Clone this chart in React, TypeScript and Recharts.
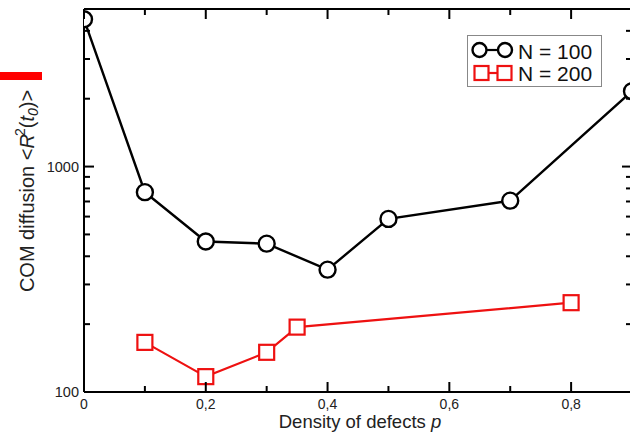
import React from "react";
import { LineChart, Line, XAxis, YAxis, Legend, Label } from "recharts";

// ---- data ----
const pN100: number[] = [0, 0.1, 0.2, 0.3, 0.4, 0.5, 0.7, 0.9];
const rN100: number[] = [4500, 770, 465, 455, 349, 586, 706, 2160];
const pN200: number[] = [0.1, 0.2, 0.3, 0.35, 0.8];
const rN200: number[] = [166, 117, 150, 194, 249];

const xTicks: number[] = [0, 0.1, 0.2, 0.3, 0.4, 0.5, 0.6, 0.7, 0.8];
const xMajor: number[] = [0, 0.2, 0.4, 0.6, 0.8];
const yTicks: number[] = [100, 200, 300, 400, 500, 600, 700, 800, 900, 1000, 2000, 3000, 4000, 5000];
const yMajor: number[] = [100, 1000];

const seriesNames = ["N = 100", "N = 200"];

const data100 = pN100.map((p, i) => ({ p, r: rN100[i] }));
const data200 = pN200.map((p, i) => ({ p, r: rN200[i] }));

const FONT = "'Liberation Sans', Arial, Helvetica, sans-serif";
const RED = "#ee1111";

const isMajorX = (v: number) => xMajor.some((m) => Math.abs(m - v) < 1e-9);
const isMajorY = (v: number) => yMajor.some((m) => Math.abs(m - v) < 1e-6);
const fmtX = (v: number) => (v === 0 ? "0" : String(v).replace(".", ","));

const XTickBottom = (props: any) => {
  const { x, y, payload } = props;
  const v = payload.value;
  const major = isMajorX(v);
  return (
    <g>
      <line x1={x} x2={x} y1={y} y2={y - (major ? 10 : 6)} stroke="#000" strokeWidth={2} />
      {major && (
        <text x={x} y={y + 16.5} textAnchor="middle" fontSize={14} fontFamily={FONT} fill="#222">
          {fmtX(v)}
        </text>
      )}
    </g>
  );
};

const XTickTop = (props: any) => {
  const { x, y, payload } = props;
  const major = isMajorX(payload.value);
  return <line x1={x} x2={x} y1={y} y2={y + (major ? 10 : 6)} stroke="#000" strokeWidth={2} />;
};

const YTickLeft = (props: any) => {
  const { x, y, payload } = props;
  const v = payload.value;
  const major = isMajorY(v);
  return (
    <g>
      <line x1={x} x2={x + (major ? 10 : 6)} y1={y} y2={y} stroke="#000" strokeWidth={2} />
      {major && (
        <text x={x - 5} y={y + 5} textAnchor="end" fontSize={14.5} fontFamily={FONT} fill="#222">
          {String(v)}
        </text>
      )}
    </g>
  );
};

const YTickRight = (props: any) => {
  const { x, y, payload } = props;
  const major = isMajorY(payload.value);
  return <line x1={x} x2={x - (major ? 10 : 6)} y1={y} y2={y} stroke="#000" strokeWidth={2} />;
};

const CircleDot = (props: any) => {
  const { cx, cy, index } = props;
  if (cx == null || cy == null) return <g key={`c${index}`} />;
  return <circle key={`c${index}`} cx={cx} cy={cy} r={8} fill="#fff" stroke="#000" strokeWidth={2.4} />;
};

const SquareDot = (props: any) => {
  const { cx, cy, index } = props;
  if (cx == null || cy == null) return <g key={`s${index}`} />;
  return (
    <rect key={`s${index}`} x={cx - 7.5} y={cy - 7.5} width={15} height={15} fill="#fff" stroke={RED} strokeWidth={2.2} />
  );
};

const YLabel = () => {
  const cx = 34;
  const cy = 191;
  return (
    <text
      x={cx}
      y={cy}
      transform={`rotate(-90, ${cx}, ${cy})`}
      textAnchor="middle"
      fontSize={20}
      fontFamily={FONT}
      fill="#222"
    >
      <tspan>COM diffusion &lt;</tspan>
      <tspan fontStyle="italic">R</tspan>
      <tspan fontSize={14} dy={-9} dx={-2}>2</tspan>
      <tspan dy={9}>(</tspan>
      <tspan fontStyle="italic">t</tspan>
      <tspan fontStyle="italic" fontSize={14} dy={4}>0</tspan>
      <tspan dy={-4}>)&gt;</tspan>
    </text>
  );
};

const XLabel = () => (
  <text x={360} y={428} textAnchor="middle" fontSize={18.5} fontFamily={FONT} fill="#222">
    <tspan>Density of defects </tspan>
    <tspan fontStyle="italic">p</tspan>
  </text>
);

const LegendBox = () => (
  <div
    style={{
      width: 135,
      height: 52,
      border: "1.5px solid #888",
      background: "#fff",
      boxSizing: "border-box",
      position: "relative",
    }}
  >
    <svg width={135} height={52} style={{ position: "absolute", left: -1.5, top: -1.5, overflow: "visible" }}>
      <line x1={12} x2={38} y1={15} y2={15} stroke="#000" strokeWidth={2.2} />
      <circle cx={12.5} cy={15} r={7} fill="#fff" stroke="#000" strokeWidth={2.4} />
      <circle cx={38} cy={15} r={7} fill="#fff" stroke="#000" strokeWidth={2.4} />
      <text x={51} y={23.5} fontSize={21} fontFamily={FONT} fill="#111">
        {seriesNames[0]}
      </text>
      <line x1={14} x2={38} y1={38} y2={38} stroke={RED} strokeWidth={2.2} />
      <rect x={7.5} y={31} width={14} height={14} fill="#fff" stroke={RED} strokeWidth={2.2} />
      <rect x={30.5} y={31} width={14} height={14} fill="#fff" stroke={RED} strokeWidth={2.2} />
      <text x={51} y={46} fontSize={21} fontFamily={FONT} fill="#111">
        {seriesNames[1]}
      </text>
    </svg>
  </div>
);

export default function App() {
  return (
    <div
      style={{
        position: "fixed",
        left: 0,
        top: 0,
        width: 630,
        height: 433,
        overflow: "hidden",
        background: "#fff",
      }}
    >
      <div style={{ position: "absolute", left: 0, top: 72, width: 42, height: 8, background: "#ff0000" }} />
      <LineChart
        width={640}
        height={433}
        margin={{ top: 8, right: 7, bottom: 40, left: 83 }}
        style={{ position: "absolute", left: 0, top: 0 }}
      >
        <XAxis
          xAxisId="bottom"
          type="number"
          dataKey="p"
          domain={[0, 0.9]}
          ticks={xTicks}
          interval={0}
          height={1}
          tickSize={0}
          tickMargin={0}
          tickLine={false}
          axisLine={{ stroke: "#000", strokeWidth: 2 }}
          tick={<XTickBottom />}
          allowDataOverflow
        >
          <Label content={<XLabel />} />
        </XAxis>
        <XAxis
          xAxisId="top"
          orientation="top"
          type="number"
          dataKey="p"
          domain={[0, 0.9]}
          ticks={xTicks}
          interval={0}
          height={1}
          tickSize={0}
          tickMargin={0}
          tickLine={false}
          axisLine={{ stroke: "#000", strokeWidth: 2 }}
          tick={<XTickTop />}
          allowDataOverflow
        />
        <YAxis
          yAxisId="left"
          type="number"
          scale="log"
          domain={[100, 5000]}
          ticks={yTicks}
          interval={0}
          width={1}
          tickSize={0}
          tickMargin={0}
          tickLine={false}
          axisLine={{ stroke: "#000", strokeWidth: 2 }}
          tick={<YTickLeft />}
          allowDataOverflow
        >
          <Label content={<YLabel />} />
        </YAxis>
        <YAxis
          yAxisId="right"
          orientation="right"
          type="number"
          scale="log"
          domain={[100, 5000]}
          ticks={yTicks}
          interval={0}
          width={1}
          tickSize={0}
          tickMargin={0}
          tickLine={false}
          axisLine={{ stroke: "#000", strokeWidth: 2 }}
          tick={<YTickRight />}
          allowDataOverflow
        />
        <Line
          xAxisId="bottom"
          yAxisId="left"
          data={data200}
          dataKey="r"
          name={seriesNames[1]}
          stroke={RED}
          strokeWidth={2.2}
          dot={SquareDot}
          activeDot={false}
          isAnimationActive={false}
        />
        <Line
          xAxisId="bottom"
          yAxisId="left"
          data={data100}
          dataKey="r"
          name={seriesNames[0]}
          stroke="#000"
          strokeWidth={2.4}
          dot={CircleDot}
          activeDot={false}
          isAnimationActive={false}
        />
        <Legend
          layout="vertical"
          align="center"
          verticalAlign="middle"
          content={<LegendBox />}
          wrapperStyle={{ left: 467, top: 35, width: 135, height: 52 }}
        />
      </LineChart>
    </div>
  );
}
